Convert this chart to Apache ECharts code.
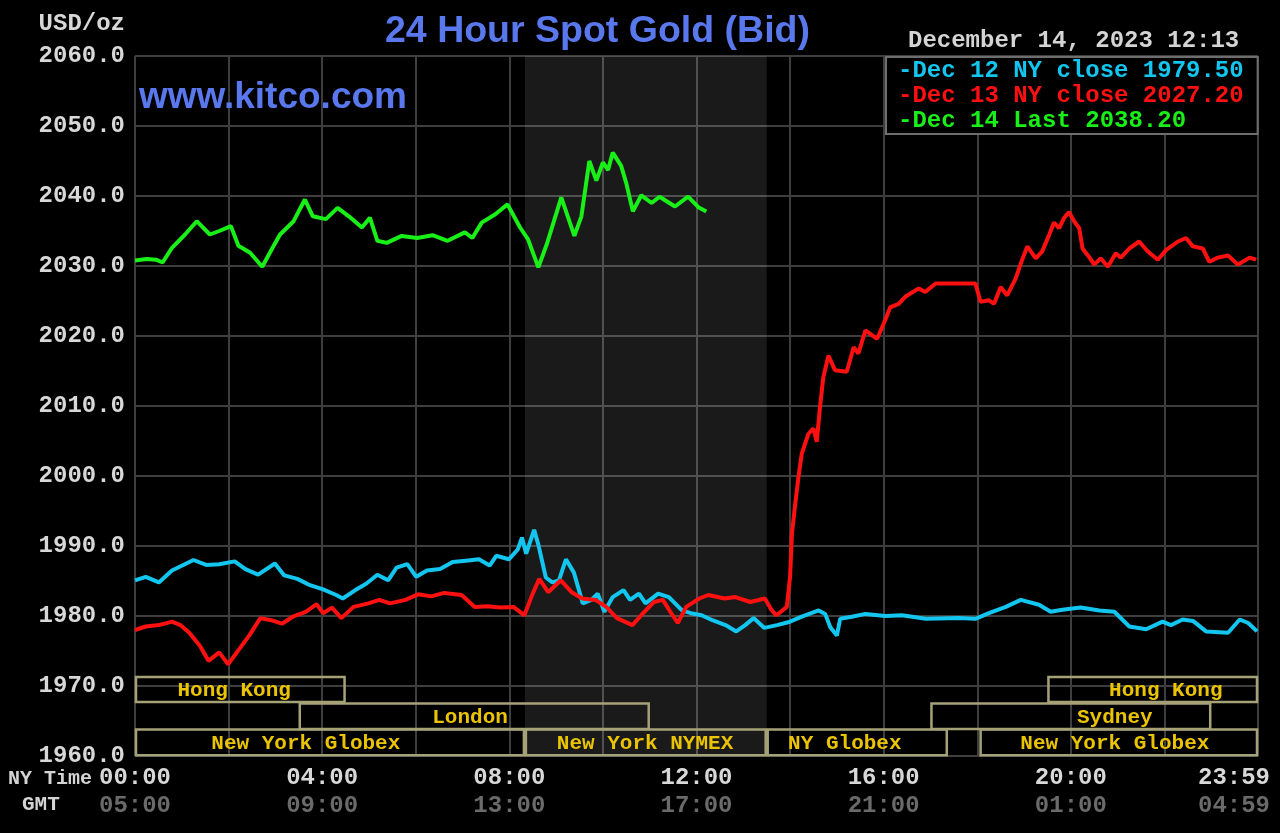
<!DOCTYPE html>
<html>
<head>
<meta charset="utf-8">
<script src="https://cdn.jsdelivr.net/npm/echarts@6/dist/echarts.min.js"></script>
<style>
html,body{margin:0;padding:0;background:#000;}
#chart{width:1280px;height:833px;}
</style>
</head>
<body>
<div id="chart"></div>
<script>
// ---------------- DATA ----------------
const seriesNames = ['Dec 12 NY close 1979.50', 'Dec 13 NY close 2027.20', 'Dec 14 Last 2038.20'];

// Dec 12 (cyan) - NY time in hours
const hoursDec12 = [0.00,0.23,0.51,0.79,1.25,1.52,1.80,2.13,2.36,2.63,2.99,3.19,3.47,3.74,4.02,4.30,4.44,4.71,4.94,5.18,5.41,5.59,5.82,6.01,6.24,6.52,6.79,7.07,7.35,7.58,7.72,7.99,8.18,8.27,8.36,8.53,8.62,8.78,8.92,9.06,9.21,9.38,9.57,9.75,9.89,10.03,10.21,10.44,10.58,10.77,10.91,11.18,11.41,11.69,11.88,12.11,12.34,12.62,12.85,13.04,13.22,13.45,13.72,13.96,14.25,14.61,14.75,14.86,15.00,15.07,15.32,15.61,16.04,16.39,16.90,17.61,17.96,18.25,18.61,18.93,19.32,19.57,19.82,20.21,20.61,20.93,21.25,21.61,21.96,22.14,22.39,22.61,22.89,23.36,23.61,23.79,23.98];
const valuesDec12 = [1985.1,1985.6,1984.8,1986.5,1988.0,1987.3,1987.4,1987.8,1986.7,1985.9,1987.5,1985.8,1985.3,1984.4,1983.8,1983.0,1982.5,1983.7,1984.6,1985.9,1985.1,1986.9,1987.4,1985.6,1986.5,1986.7,1987.7,1987.9,1988.1,1987.2,1988.6,1988.1,1989.5,1991.2,1988.9,1992.3,1990.2,1985.5,1984.8,1985.1,1988.1,1986.2,1981.8,1982.3,1983.2,1980.6,1982.7,1983.7,1982.3,1983.2,1981.8,1983.2,1982.7,1980.8,1980.4,1980.1,1979.4,1978.7,1977.8,1978.7,1979.7,1978.3,1978.7,1979.1,1979.9,1980.8,1980.3,1978.4,1977.2,1979.6,1979.9,1980.3,1980.0,1980.1,1979.6,1979.7,1979.6,1980.4,1981.3,1982.3,1981.6,1980.6,1980.9,1981.2,1980.8,1980.6,1978.5,1978.1,1979.2,1978.7,1979.5,1979.3,1977.8,1977.6,1979.5,1979.0,1977.8];

// Dec 13 (red)
const hoursDec13 = [0.00,0.23,0.51,0.79,0.97,1.16,1.39,1.57,1.80,1.99,2.22,2.45,2.68,2.91,3.14,3.37,3.65,3.88,4.02,4.21,4.41,4.67,4.99,5.22,5.45,5.78,6.05,6.33,6.61,6.98,7.26,7.53,7.81,8.09,8.32,8.50,8.64,8.83,9.10,9.33,9.56,9.84,10.07,10.30,10.63,10.86,11.09,11.28,11.46,11.60,11.78,12.06,12.25,12.60,12.83,13.15,13.46,13.61,13.71,13.93,14.00,14.04,14.11,14.18,14.25,14.39,14.50,14.57,14.64,14.71,14.82,14.96,15.21,15.36,15.46,15.61,15.86,16.04,16.14,16.32,16.46,16.75,16.89,17.11,17.61,17.96,18.07,18.25,18.36,18.50,18.64,18.82,18.96,19.07,19.25,19.39,19.54,19.64,19.75,19.86,19.96,20.07,20.18,20.25,20.39,20.50,20.64,20.79,20.96,21.07,21.25,21.46,21.64,21.86,22.04,22.29,22.46,22.61,22.82,22.96,23.14,23.36,23.57,23.82,23.96];
const valuesDec13 = [1978.0,1978.5,1978.7,1979.2,1978.7,1977.6,1975.7,1973.6,1974.8,1973.1,1975.2,1977.3,1979.7,1979.4,1978.9,1979.9,1980.6,1981.7,1980.4,1981.2,1979.7,1981.3,1981.8,1982.3,1981.8,1982.3,1983.1,1982.8,1983.3,1983.0,1981.3,1981.4,1981.2,1981.3,1980.1,1983.2,1985.3,1983.4,1985.1,1983.4,1982.5,1982.3,1981.3,1979.7,1978.7,1980.4,1982.0,1982.3,1980.4,1979.0,1981.3,1982.5,1983.0,1982.5,1982.7,1982.0,1982.5,1980.8,1980.1,1981.3,1985.6,1991.8,1996.0,1999.9,2003.2,2006.0,2006.8,2004.9,2009.9,2014.1,2017.2,2015.1,2014.9,2018.4,2017.5,2020.8,2019.6,2022.4,2024.1,2024.6,2025.6,2026.8,2026.3,2027.5,2027.5,2027.5,2024.9,2025.1,2024.6,2027.0,2025.8,2028.2,2030.9,2032.8,2031.1,2032.1,2034.5,2036.2,2035.4,2036.9,2037.7,2036.4,2035.4,2032.5,2031.3,2030.2,2031.1,2029.9,2031.8,2031.2,2032.5,2033.5,2032.1,2030.9,2032.3,2033.5,2034.0,2032.8,2032.5,2030.6,2031.2,2031.5,2030.2,2031.2,2030.9];

// Dec 14 (green)
const hoursDec14 = [0.00,0.25,0.45,0.59,0.79,1.07,1.32,1.60,1.80,2.05,2.21,2.46,2.72,2.94,3.10,3.39,3.63,3.80,4.08,4.33,4.57,4.85,5.02,5.18,5.38,5.70,6.03,6.36,6.68,7.05,7.21,7.41,7.70,7.96,8.23,8.40,8.62,8.80,9.11,9.39,9.54,9.71,9.86,10.00,10.11,10.21,10.39,10.50,10.64,10.82,11.04,11.21,11.54,11.82,12.04,12.21];
const valuesDec14 = [2030.8,2031.0,2030.9,2030.5,2032.6,2034.5,2036.4,2034.5,2035.0,2035.7,2032.9,2031.9,2029.9,2032.6,2034.5,2036.4,2039.5,2037.1,2036.7,2038.3,2037.1,2035.5,2036.9,2033.6,2033.3,2034.3,2034.0,2034.4,2033.6,2034.8,2034.0,2036.2,2037.4,2038.8,2035.5,2033.8,2029.8,2033.1,2039.8,2034.3,2037.1,2045.0,2042.2,2044.8,2043.7,2046.2,2044.3,2041.8,2037.8,2040.1,2039.0,2039.9,2038.5,2039.9,2038.4,2037.8];

// NYMEX trading (shaded) window, NY hours
const nymexWindow = [8.333, 13.5];

// Trading sessions
const sessionNames   = ['Hong Kong','Hong Kong','London','Sydney','New York Globex','New York NYMEX','NY Globex','New York Globex'];
const sessionStart   = [0, 19.5, 3.5, 17, 0, 8.333, 13.5, 18.05];
const sessionEnd     = [4.5, 24, 11, 23, 8.333, 13.5, 17.37, 24];
const sessionRow     = [0, 0, 1, 1, 2, 2, 2, 2];
const sessionLabelAt = [2.12, 22.03, 7.16, 20.94, 3.65, 10.9, 15.17, 20.94];

// Tick labels
const tickHours = [0, 4, 8, 12, 16, 20, 24];
const nyTickLabels  = ['00:00','04:00','08:00','12:00','16:00','20:00','23:59'];
const gmtTickLabels = ['05:00','09:00','13:00','17:00','21:00','01:00','04:59'];

// ---------------- CHART ----------------
const zip = (h, v) => h.map((x, i) => [x, v[i]]);
const MONO = '"Liberation Mono", "DejaVu Sans Mono", monospace';
const rowBands = [[1971.3, 1967.7], [1967.5, 1963.85], [1963.8, 1960.1]];

const chart = echarts.init(document.getElementById('chart'));
const option = {
  backgroundColor: '#000',
  animation: false,
  title: {
    text: '24 Hour Spot Gold (Bid)',
    left: 385, top: 12, padding: 0,
    textStyle: { color: '#5a78ee', fontFamily: '"Liberation Sans", Arial, sans-serif', fontWeight: 'bold', fontSize: 37.5, lineHeight: 40 }
  },
  legend: {
    data: [
      { name: seriesNames[0], textStyle: { color: '#12c6f0' } },
      { name: seriesNames[1], textStyle: { color: '#ff1010' } },
      { name: seriesNames[2], textStyle: { color: '#18f018' } }
    ],
    orient: 'vertical',
    left: 886, top: 57,
    padding: [1, 14, 1, 7],
    itemGap: 0,
    itemWidth: 0, itemHeight: 0,
    icon: 'rect',
    selectedMode: false,
    backgroundColor: '#000',
    borderColor: '#6e6e6e', borderWidth: 2,
    formatter: n => '-' + n,
    textStyle: { fontFamily: MONO, fontWeight: 'bold', fontSize: 24, lineHeight: 25 }
  },
  grid: { left: 135, right: 22, top: 56, bottom: 77, containLabel: false, outerBoundsMode: 'none' },
  xAxis: {
    type: 'value', min: 0, max: 24, interval: 2,
    axisLine: { show: false }, axisTick: { show: false },
    splitLine: { show: true, lineStyle: { color: '#3e3e3e', width: 2 } },
    axisLabel: {
      margin: 8,
      formatter: function (v) {
        const i = tickHours.indexOf(v);
        if (i < 0) return '';
        if (i === tickHours.length - 1) return '{nyE|' + nyTickLabels[i] + '}\n{gmtE|' + gmtTickLabels[i] + '}';
        return '{ny|' + nyTickLabels[i] + '}\n{gmt|' + gmtTickLabels[i] + '}';
      },
      rich: {
        ny:  { color: '#d8d8d8', fontFamily: MONO, fontWeight: 'bold', fontSize: 24, lineHeight: 28 },
        gmt: { color: '#6a6a6a', fontFamily: MONO, fontWeight: 'bold', fontSize: 24, lineHeight: 28 },
        nyE: { color: '#d8d8d8', fontFamily: MONO, fontWeight: 'bold', fontSize: 24, lineHeight: 28, padding: [0, 48, 0, 0] },
        gmtE:{ color: '#6a6a6a', fontFamily: MONO, fontWeight: 'bold', fontSize: 24, lineHeight: 28, padding: [0, 48, 0, 0] }
      }
    }
  },
  yAxis: {
    type: 'value', min: 1960, max: 2060, interval: 10,
    name: 'USD/oz', nameLocation: 'end', nameGap: 20,
    nameTextStyle: { color: '#d8d8d8', fontFamily: MONO, fontWeight: 'bold', fontSize: 24, align: 'right', verticalAlign: 'bottom', padding: [0, 10, 0, 0] },
    axisLine: { show: false }, axisTick: { show: false },
    splitLine: { show: true, lineStyle: { color: '#3e3e3e', width: 2 } },
    axisLabel: {
      margin: 10, color: '#d8d8d8', fontFamily: MONO, fontWeight: 'bold', fontSize: 24,
      formatter: v => v.toFixed(1)
    }
  },
  graphic: [
    { type: 'text', left: 139, top: 79, z: 1,
      style: { text: 'www.kitco.com', fill: '#5a78ee', font: 'bold 37px "Liberation Sans", Arial, sans-serif' } },
    { type: 'text', left: 908, top: 29,
      style: { text: 'December 14, 2023 12:13', fill: '#d4d4d4', font: 'bold 24px ' + MONO } },
    { type: 'text', left: 8, top: 769,
      style: { text: 'NY Time', fill: '#d4d4d4', font: 'bold 20px ' + MONO } },
    { type: 'text', left: 22, top: 794,
      style: { text: 'GMT', fill: '#d4d4d4', font: 'bold 21px ' + MONO } }
  ],
  series: [
    {
      name: seriesNames[0], type: 'line', data: zip(hoursDec12, valuesDec12),
      showSymbol: false, lineStyle: { color: '#12c6f0', width: 4 }, itemStyle: { color: '#12c6f0' },
      markArea: {
        silent: true,
        itemStyle: { color: 'rgba(255,255,255,0.10)' },
        data: [[{ xAxis: nymexWindow[0] }, { xAxis: nymexWindow[1] }]]
      }
    },
    {
      name: seriesNames[1], type: 'line', data: zip(hoursDec13, valuesDec13),
      showSymbol: false, lineStyle: { color: '#ff1010', width: 4 }, itemStyle: { color: '#ff1010' }
    },
    {
      name: seriesNames[2], type: 'line', data: zip(hoursDec14, valuesDec14),
      showSymbol: false, lineStyle: { color: '#18f018', width: 4 }, itemStyle: { color: '#18f018' }
    },
    {
      name: 'sessions', type: 'custom', clip: false, silent: true,
      encode: { x: [0, 1] },
      data: sessionStart.map((s, i) => [s, sessionEnd[i], sessionRow[i], sessionLabelAt[i]]),
      renderItem: function (params, api) {
        const s = api.value(0), e = api.value(1), row = api.value(2), lab = api.value(3);
        const band = rowBands[row];
        const p1 = api.coord([s, band[0]]);
        const p2 = api.coord([e, band[1]]);
        const pl = api.coord([lab, (band[0] + band[1]) / 2]);
        return {
          type: 'group',
          children: [
            { type: 'rect',
              shape: { x: p1[0] + 1, y: p1[1], width: p2[0] - p1[0] - 2, height: p2[1] - p1[1] },
              style: { fill: 'none', stroke: '#a6a277', lineWidth: 2.5 } },
            { type: 'text', x: pl[0], y: pl[1] + 1,
              style: { text: sessionNames[params.dataIndex], fill: '#eac400', font: 'bold 21px ' + MONO, align: 'center', verticalAlign: 'middle' } }
          ]
        };
      }
    }
  ]
};
chart.setOption(option);
</script>
</body>
</html>
